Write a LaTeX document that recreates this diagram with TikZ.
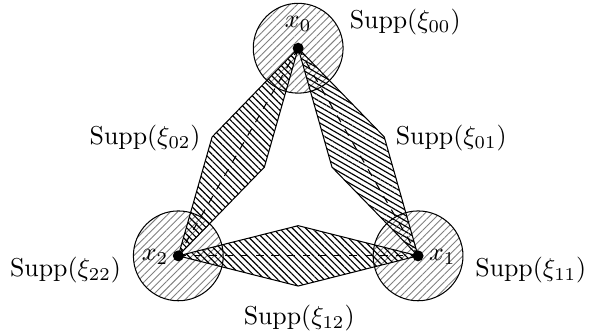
\documentclass[tikz,border=0pt]{standalone}
\usepackage{amsfonts,amssymb,amsmath}
\usepackage{xcolor}
\usepackage{tikz}
\usetikzlibrary{patterns,patterns.meta,calc}

\begin{document}
\begin{tikzpicture}[
  disc/.style={draw,pattern={Lines[angle=45,distance=2pt,line width=0.35pt]},pattern color=gray},
  lozenge/.style={draw,pattern={Lines[angle=#1,distance=1.8pt,line width=0.45pt]},pattern color=black},
  dot/.style={shape=circle,fill=black,inner sep=0pt,minimum size=0.15cm}]
\useasboundingbox(-4.05,-1.96)rectangle(3.95,2.535);
\coordinate(x0)at(90:1.88);
\coordinate(x1)at(-30:1.88);
\coordinate(x2)at(210:1.88);
% supports of the diagonal terms
\draw[disc](x0)circle(0.61);
\draw[disc](x1)circle(0.61);
\draw[disc](x2)circle(0.61);
% supports of the cross terms
\coordinate(m01)at($(x0)!0.5!(x1)$);
\coordinate(m02)at($(x0)!0.5!(x2)$);
\coordinate(m12)at($(x2)!0.5!(x1)$);
\draw[lozenge=-30](x0)--($(m01)!0.41cm!90:(x1)$)--(x1)--($(m01)!0.41cm!-90:(x1)$)--cycle;
\draw[lozenge=-45](x0)--($(m02)!0.41cm!90:(x2)$)--(x2)--($(m02)!0.41cm!-90:(x2)$)--cycle;
\draw[lozenge=-45](x2)--($(m12)!0.41cm!90:(x1)$)--(x1)--($(m12)!0.41cm!-90:(x1)$)--cycle;
\draw[dashed](x0)--(x1);
\draw[dashed](x0)--(x2);
\draw[dashed](x2)--(x1);
% points
\node[dot](d0)at(x0){};
\node[dot](d1)at(x1){};
\node[dot](d2)at(x2){};
\node(l0)at(0,2.21){$x_0$};
\node(l1)at(1.957,-0.957){$x_1$};
\node(l2)at(-1.943,-0.957){$x_2$};
% labels
\node(s00)at(1.454,2.236){$\mathrm{Supp}(\xi_{00})$};
\node(s01)at(2.079,0.66){$\mathrm{Supp}(\xi_{01})$};
\node(s02)at(-2.079,0.66){$\mathrm{Supp}(\xi_{02})$};
\node(s11)at(3.16,-1.133){$\mathrm{Supp}(\xi_{11})$};
\node(s22)at(-3.16,-1.133){$\mathrm{Supp}(\xi_{22})$};
\node(s12)at(0.014,-1.785){$\mathrm{Supp}(\xi_{12})$};
\end{tikzpicture}
\end{document}
